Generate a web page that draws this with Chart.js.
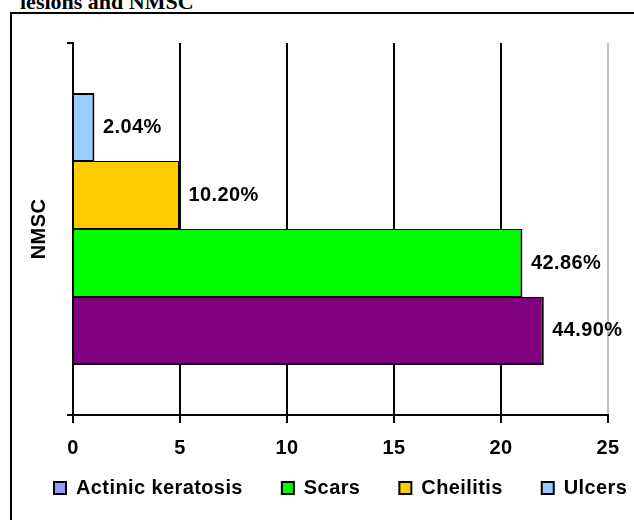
<!DOCTYPE html>
<html>
<head>
<meta charset="utf-8">
<script src="https://cdn.jsdelivr.net/npm/chart.js@4/dist/chart.umd.min.js"></script>
<style>
  html, body { margin: 0; padding: 0; background: #fff; overflow: hidden; }
  #wrap { position: relative; width: 634px; height: 520px; }
  #frame { position: absolute; left: 10px; top: 12px; width: 700px; height: 600px; border: 2px solid #000; }
  #head { position: absolute; left: 20px; top: -11px; line-height: 22px; white-space: nowrap;
          font: bold 22px "Liberation Serif", "Times New Roman", serif; color: #000; }
  canvas { position: absolute; left: 0; top: 0; }
</style>
</head>
<body>
<div id="wrap">
  <div id="frame"></div>
  <div id="head">lesions and NMSC</div>
  <canvas id="myChart" width="634" height="520"></canvas>
</div>
<script>
// data, top bar first
var categories = ['NMSC'];
var seriesNames = ['Ulcers', 'Cheilitis', 'Scars', 'Actinic keratosis'];
var seriesValues = [1, 5, 21, 22];
var xTicks = [0, 5, 10, 15, 20, 25];

var barColors = ['#99CCFF', '#FFCC00', '#00FF00', '#800080'];
var legendColors = ['#99CCFF', '#FFCC00', '#00FF00', '#9999FF'];

var FONT = '"Liberation Sans", Arial, sans-serif';
Chart.defaults.font.family = FONT;
Chart.defaults.font.size = 20;
Chart.defaults.font.weight = 'bold';
Chart.defaults.color = '#000';

// excel text looks a bit wider than arial
var spacing = {
    id: 'spacing',
    beforeLayout: function (chart) { chart.ctx.letterSpacing = '0.4px'; },
    beforeDraw: function (chart) { chart.ctx.letterSpacing = '0.4px'; }
};

var barLabels = {
    id: 'barLabels',
    afterDatasetsDraw: function (chart) {
        var ctx = chart.ctx;
        var total = seriesValues.reduce(function (a, b) { return a + b; }, 0);
        ctx.save();
        ctx.font = 'bold 20px ' + FONT;
        ctx.fillStyle = '#000';
        ctx.textAlign = 'left';
        ctx.textBaseline = 'middle';
        chart.data.datasets.forEach(function (ds, i) {
            var bar = chart.getDatasetMeta(i).data[0];
            var pct = (ds.data[0] / total * 100).toFixed(2) + '%';
            ctx.fillText(pct, bar.x + 8.5, bar.y);
        });
        ctx.restore();
    }
};

var last = seriesNames.length - 1;
var datasets = seriesNames.map(function (name, i) {
    return {
        label: name,
        data: [seriesValues[i]],
        backgroundColor: barColors[i],
        borderColor: '#000',
        borderWidth: { top: i === 0 ? 2 : 1, right: 2, bottom: i === last ? 2 : 1, left: 0 },
        borderSkipped: 'start',
        categoryPercentage: 0.731,
        barPercentage: 1
    };
});

var ctx = document.getElementById('myChart');
window.myBar = new Chart(ctx, {
    type: 'bar',
    data: { labels: categories, datasets: datasets },
    options: {
        indexAxis: 'y',
        responsive: false,
        animation: false,
        layout: { padding: { left: 15, top: 43, right: -40, bottom: 12 } },
        scales: {
            x: {
                min: xTicks[0],
                max: xTicks[xTicks.length - 1],
                afterBuildTicks: function (s) { s.ticks = xTicks.map(function (v) { return { value: v }; }); },
                afterFit: function (s) { s.height = 24; s.paddingRight = 26; },
                grid: {
                    color: function (c) { return c.tick && c.tick.value === 25 ? '#c0c0c0' : '#000'; },
                    tickColor: '#000',
                    lineWidth: 2,
                    tickLength: 8
                },
                border: { color: '#000', width: 2 },
                // mirror keeps the labels from being clipped to the short axis box,
                // negative padding pushes them back below the axis
                ticks: { mirror: true, padding: -45, font: { size: 20, weight: 'bold' }, color: '#000' }
            },
            y: {
                z: 1,
                afterFit: function (s) { s.width = 58; },
                grid: { drawOnChartArea: false, color: '#000', lineWidth: 2, tickLength: 6 },
                border: { color: '#000', width: 2 },
                ticks: { display: false },
                title: {
                    display: true,
                    text: categories[0],
                    color: '#000',
                    font: { size: 20, weight: 'bold' },
                    padding: { top: 12, bottom: 0 }
                }
            }
        },
        plugins: {
            tooltip: { enabled: false },
            legend: {
                position: 'bottom',
                align: 'start',
                labels: {
                    boxWidth: 12,
                    boxHeight: 12,
                    padding: 39,
                    color: '#000',
                    font: { size: 20, weight: 'bold' },
                    generateLabels: function (chart) {
                        var items = Chart.defaults.plugins.legend.labels.generateLabels(chart);
                        items.forEach(function (it) {
                            it.fillStyle = legendColors[it.datasetIndex];
                            it.strokeStyle = '#000';
                            it.lineWidth = 2;
                        });
                        return items.reverse();
                    }
                }
            }
        }
    },
    plugins: [spacing, barLabels]
});
</script>
</body>
</html>
